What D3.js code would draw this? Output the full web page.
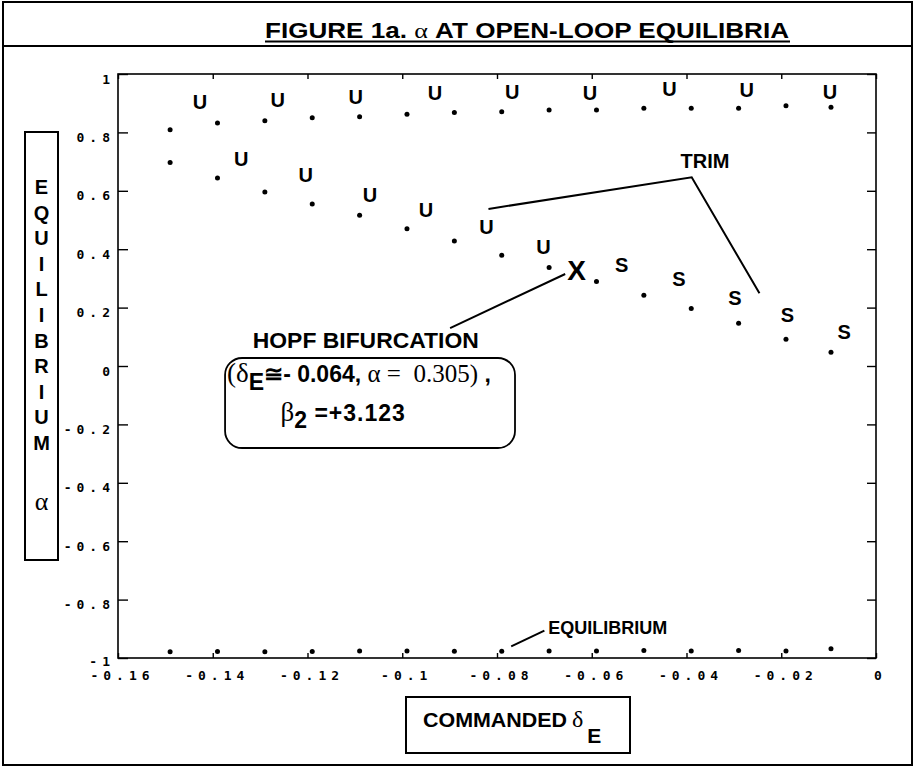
<!DOCTYPE html>
<html>
<head>
<meta charset="utf-8">
<script src="https://cdn.jsdelivr.net/npm/d3@7"></script>
<style>
  html, body { margin: 0; padding: 0; background: #fff; }
  svg { display: block; }
</style>
</head>
<body>
<svg id="chart" width="915" height="766"></svg>
<script>
// ---------------- DATA ----------------
const commandedDeltaE = [-0.149, -0.139, -0.129, -0.119, -0.109, -0.099, -0.089, -0.079,
                         -0.069, -0.059, -0.049, -0.039, -0.029, -0.019, -0.0095];
const alphaUpper = [0.809, 0.832, 0.840, 0.850, 0.854, 0.862, 0.868, 0.871,
                    0.877, 0.877, 0.883, 0.883, 0.883, 0.891, 0.886];
const alphaTrim  = [0.697, 0.644, 0.596, 0.555, 0.516, 0.470, 0.428, 0.379,
                    0.337, 0.289, 0.242, 0.197, 0.146, 0.092, 0.047];
const alphaLower = [-0.979, -0.978, -0.979, -0.978, -0.976, -0.976, -0.977, -0.977,
                    -0.976, -0.976, -0.974, -0.976, -0.974, -0.976, -0.968];

const xTicks = [-0.16, -0.14, -0.12, -0.1, -0.08, -0.06, -0.04, -0.02, 0];
const xTickLabels = ["-0.16", "-0.14", "-0.12", "-0.1", "-0.08", "-0.06", "-0.04", "-0.02", "0"];
const yTicks = [-1, -0.8, -0.6, -0.4, -0.2, 0, 0.2, 0.4, 0.6, 0.8, 1];
const yTickLabels = ["-1", "-0.8", "-0.6", "-0.4", "-0.2", "0", "0.2", "0.4", "0.6", "0.8", "1"];

// stability markers (label centres in data units)
const unstableTopX = [-0.1427, -0.1263, -0.1098, -0.0931, -0.0768, -0.0604, -0.0436, -0.0273, -0.0097];
const unstableTopY = [0.905, 0.913, 0.922, 0.934, 0.939, 0.934, 0.951, 0.945, 0.939];
const unstableMidX = [-0.1340, -0.1204, -0.1068, -0.0950, -0.0822, -0.0702];
const unstableMidY = [0.711, 0.654, 0.586, 0.534, 0.477, 0.409];
const stableX = [-0.0537, -0.0416, -0.0298, -0.0187, -0.0067];
const stableY = [0.346, 0.300, 0.232, 0.175, 0.118];
const hopfPoint = [-0.0632, 0.329];

const yAxisTitle = ["E", "Q", "U", "I", "L", "I", "B", "R", "I", "U", "M"];

// ---------------- LAYOUT ----------------
const svg = d3.select("#chart");
const W = 915, H = 766;
const plot = { left: 118, right: 876, top: 74, bottom: 658 };

const x = d3.scaleLinear().domain([-0.16, 0]).range([plot.left, plot.right]);
const y = d3.scaleLinear().domain([-1, 1]).range([plot.bottom, plot.top]);

const SANS = "'Liberation Sans', Arial, Helvetica, sans-serif";
const SERIF = "'Liberation Serif', 'Times New Roman', serif";
const MONO = "'DejaVu Sans Mono', 'Liberation Mono', monospace";

svg.append("rect").attr("width", W).attr("height", H).attr("fill", "#fff");

// outer frame + title separator
svg.append("rect").attr("x", 3).attr("y", 2).attr("width", 909).attr("height", 763)
  .attr("fill", "none").attr("stroke", "#000").attr("stroke-width", 2);
svg.append("line").attr("x1", 3).attr("x2", 912).attr("y1", 46).attr("y2", 46)
  .attr("stroke", "#000").attr("stroke-width", 2);

// title
const title = svg.append("text")
  .attr("x", 527).attr("y", 38).attr("text-anchor", "middle")
  .attr("font-family", SANS).attr("font-weight", "bold").attr("font-size", 22)
  .attr("textLength", 524).attr("lengthAdjust", "spacingAndGlyphs");
title.append("tspan").text("FIGURE 1a.  ");
title.append("tspan").attr("font-family", SERIF).attr("font-weight", "normal").text("\u03B1");
title.append("tspan").text(" AT OPEN-LOOP EQUILIBRIA");
svg.append("line").attr("x1", 265).attr("x2", 790).attr("y1", 41.5).attr("y2", 41.5)
  .attr("stroke", "#000").attr("stroke-width", 2);

// ---------------- AXES ----------------
const g = svg.append("g");
g.append("rect").attr("x", plot.left).attr("y", plot.top)
  .attr("width", plot.right - plot.left).attr("height", plot.bottom - plot.top)
  .attr("fill", "none").attr("stroke", "#000").attr("stroke-width", 1.6);

const yAxisL = d3.axisLeft(y).tickValues(yTicks).tickSize(-10).tickFormat("");
const yAxisR = d3.axisRight(y).tickValues(yTicks).tickSize(-9).tickFormat("");
const xAxisT = d3.axisTop(x).tickValues(xTicks).tickSize(-5).tickFormat("");
const xAxisB = d3.axisBottom(x).tickValues(xTicks).tickSize(-5).tickFormat("");
[[yAxisL, `translate(${plot.left},0)`], [yAxisR, `translate(${plot.right},0)`],
 [xAxisT, `translate(0,${plot.top})`], [xAxisB, `translate(0,${plot.bottom})`]].forEach(([ax, tr]) => {
  const a = g.append("g").attr("transform", tr).call(ax);
  a.select(".domain").remove();
  a.selectAll("line").attr("stroke", "#000").attr("stroke-width", 1.4);
});

const LS = 5;
g.append("g").selectAll("text").data(yTicks).join("text")
  .attr("x", 110 + LS).attr("y", d => y(d) + (d === -1 ? 8 : 9.5))
  .attr("text-anchor", "end")
  .attr("font-family", MONO).attr("font-weight", "bold").attr("font-size", 13)
  .attr("letter-spacing", LS)
  .text((d, i) => yTickLabels[i]);

g.append("g").selectAll("text").data(xTicks).join("text")
  .attr("x", d => x(d) + LS / 2 + 2).attr("y", 680)
  .attr("text-anchor", "middle")
  .attr("font-family", MONO).attr("font-weight", "bold").attr("font-size", 13)
  .attr("letter-spacing", LS)
  .text((d, i) => xTickLabels[i]);

// ---------------- POINTS ----------------
const pts = g.append("g");
[alphaUpper, alphaTrim, alphaLower].forEach(series => {
  pts.selectAll(null).data(commandedDeltaE).join("circle")
    .attr("cx", d => x(d)).attr("cy", (d, i) => y(series[i]))
    .attr("r", 2.5).attr("fill", "#000");
});

// stability labels
function labels(xs, ys, txt, size) {
  g.append("g").selectAll("text").data(xs).join("text")
    .attr("x", d => x(d)).attr("y", (d, i) => y(ys[i]))
    .attr("dy", "0.36em").attr("text-anchor", "middle")
    .attr("font-family", SANS).attr("font-weight", "bold").attr("font-size", size)
    .text(txt);
}
labels(unstableTopX, unstableTopY, "U", 20);
labels(unstableMidX, unstableMidY, "U", 20);
labels(stableX, stableY, "S", 20);
labels([hopfPoint[0]], [hopfPoint[1]], "X", 28);

// ---------------- ANNOTATIONS ----------------
const line = d3.line().x(d => x(d[0])).y(d => y(d[1]));
const trimLeader = [[-0.0818, 0.538], [-0.0389, 0.646], [-0.0246, 0.249]];
const hopfLeader = [[-0.0899, 0.130], [-0.0656, 0.315]];
const eqLeader = [[-0.0770, -0.960], [-0.0700, -0.906]];
[trimLeader, hopfLeader, eqLeader].forEach(p => {
  g.append("path").attr("d", line(p)).attr("fill", "none")
    .attr("stroke", "#000").attr("stroke-width", 2);
});

g.append("text").attr("x", x(-0.0361)).attr("y", y(0.702)).attr("dy", "0.36em")
  .attr("text-anchor", "middle").attr("font-family", SANS).attr("font-weight", "bold")
  .attr("font-size", 20).text("TRIM");

g.append("text").attr("x", x(-0.0692)).attr("y", y(-0.897)).attr("dy", "0.36em")
  .attr("text-anchor", "start").attr("font-family", SANS).attr("font-weight", "bold")
  .attr("font-size", 18).text("EQUILIBRIUM");

g.append("text").attr("x", x(-0.1077)).attr("y", y(0.0616))
  .attr("text-anchor", "middle").attr("font-family", SANS).attr("font-weight", "bold")
  .attr("font-size", 22).attr("textLength", 226).attr("lengthAdjust", "spacingAndGlyphs")
  .text("HOPF BIFURCATION");

// rounded annotation box
const bx0 = x(-0.1374), bx1 = x(-0.0762), by0 = y(0.0274), by1 = y(-0.2808);
g.append("rect").attr("x", bx0).attr("y", by0).attr("width", bx1 - bx0).attr("height", by1 - by0)
  .attr("rx", 17).attr("ry", 17).attr("fill", "none").attr("stroke", "#000").attr("stroke-width", 1.8);

const l1 = g.append("text").attr("x", bx0 + 2).attr("y", y(-0.0548));
l1.append("tspan").attr("font-family", SERIF).attr("font-size", 27).text("(\u03B4");
l1.append("tspan").attr("font-family", SANS).attr("font-weight", "bold").attr("font-size", 23).attr("dy", 8).text("E");
l1.append("tspan").attr("font-family", SANS).attr("font-weight", "bold").attr("font-size", 23).attr("dy", -8).text("\u2245");
l1.append("tspan").attr("font-family", SANS).attr("font-weight", "bold").attr("font-size", 23).text("- 0.064, ");
l1.append("tspan").attr("font-family", SERIF).attr("font-size", 25).text("\u03B1 = \u00A00.305)");
l1.append("tspan").attr("font-family", SANS).attr("font-weight", "bold").attr("font-size", 23).text(" ,");

const l2 = g.append("text").attr("x", x(-0.1257)).attr("y", y(-0.1884));
l2.append("tspan").attr("font-family", SERIF).attr("font-size", 27).text("\u03B2");
l2.append("tspan").attr("font-family", SANS).attr("font-weight", "bold").attr("font-size", 23).attr("dy", 7).text("2");
l2.append("tspan").attr("font-family", SANS).attr("font-weight", "bold").attr("font-size", 23).attr("dy", -7)
  .attr("letter-spacing", 1).text(" =+3.123");

// ---------------- AXIS TITLE BOXES ----------------
svg.append("rect").attr("x", 25).attr("y", 132).attr("width", 33).attr("height", 428)
  .attr("fill", "none").attr("stroke", "#000").attr("stroke-width", 2);
svg.append("g").selectAll("text").data(yAxisTitle).join("text")
  .attr("x", 41.5).attr("y", (d, i) => 194 + i * 25.6)
  .attr("text-anchor", "middle").attr("font-family", SANS).attr("font-weight", "bold")
  .attr("font-size", 20).text(d => d);
svg.append("text").attr("x", 41.5).attr("y", 510).attr("text-anchor", "middle")
  .attr("font-family", SERIF).attr("font-size", 26).text("\u03B1");

svg.append("rect").attr("x", 406).attr("y", 697).attr("width", 224).attr("height", 56)
  .attr("fill", "none").attr("stroke", "#000").attr("stroke-width", 2);
const xl = svg.append("text").attr("x", 423).attr("y", 727)
  .attr("font-family", SANS).attr("font-weight", "bold").attr("font-size", 21);
xl.append("tspan").attr("textLength", 144).attr("lengthAdjust", "spacingAndGlyphs").text("COMMANDED");
xl.append("tspan").attr("dx", 5).attr("font-family", SERIF).attr("font-weight", "normal").attr("font-size", 24).text("\u03B4");
xl.append("tspan").attr("dy", 16).attr("dx", 4).text("E");
</script>
</body>
</html>
